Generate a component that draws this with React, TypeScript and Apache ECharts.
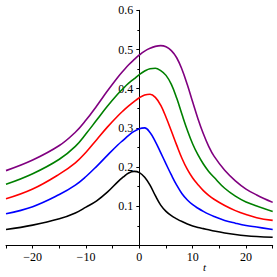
import React, { useEffect, useRef } from "react";
import * as echarts from "echarts";

const T = [-25, -20, -15, -12, -10, -8, -6, -4, -3, -2, -1, 0, 1, 2, 3, 4, 5, 6, 7, 8, 9, 10, 11, 12, 13, 14, 16, 18, 20, 22, 25];
const blackY = [0.041, 0.052, 0.068, 0.083, 0.098, 0.114, 0.136, 0.163, 0.175, 0.185, 0.189, 0.186, 0.174, 0.154, 0.127, 0.103, 0.087, 0.076, 0.068, 0.061, 0.055, 0.05, 0.046, 0.043, 0.04, 0.037, 0.032, 0.028, 0.025, 0.023, 0.021];
const blueY = [0.081, 0.099, 0.13, 0.154, 0.176, 0.202, 0.23, 0.257, 0.269, 0.281, 0.291, 0.298, 0.3, 0.288, 0.265, 0.237, 0.208, 0.18, 0.154, 0.132, 0.116, 0.104, 0.095, 0.087, 0.08, 0.074, 0.064, 0.057, 0.051, 0.047, 0.041];
const redY = [0.119, 0.144, 0.182, 0.211, 0.238, 0.27, 0.302, 0.331, 0.344, 0.356, 0.367, 0.377, 0.384, 0.386, 0.378, 0.358, 0.327, 0.292, 0.256, 0.222, 0.194, 0.172, 0.155, 0.14, 0.128, 0.118, 0.102, 0.089, 0.079, 0.071, 0.064];
const greenY = [0.156, 0.183, 0.22, 0.253, 0.285, 0.32, 0.355, 0.387, 0.401, 0.414, 0.425, 0.436, 0.445, 0.451, 0.452, 0.446, 0.434, 0.411, 0.376, 0.334, 0.294, 0.259, 0.231, 0.208, 0.189, 0.174, 0.146, 0.126, 0.111, 0.101, 0.087];
const purpleY = [0.191, 0.218, 0.255, 0.289, 0.32, 0.356, 0.394, 0.43, 0.446, 0.461, 0.474, 0.486, 0.496, 0.503, 0.508, 0.51, 0.507, 0.497, 0.479, 0.449, 0.41, 0.366, 0.323, 0.285, 0.253, 0.228, 0.192, 0.165, 0.144, 0.129, 0.11];

const SERIES = [
  { name: "black", color: "#000000", values: blackY },
  { name: "blue", color: "#0000ff", values: blueY },
  { name: "red", color: "#ff0000", values: redY },
  { name: "green", color: "#008000", values: greenY },
  { name: "purple", color: "#800080", values: purpleY },
];

const FONT = "Liberation Serif";
const GRID_LEFT = 6;
const GRID_RIGHT = 4.3;
const CHART_W = 277;

export default function App() {
  const ref = useRef<HTMLDivElement>(null);
  useEffect(() => {
    if (!ref.current) return;
    const chart = echarts.init(ref.current, null, { renderer: "svg" });
    const gridW = CHART_W - GRID_LEFT - GRID_RIGHT;
    chart.setOption({
      animation: false,
      backgroundColor: "#ffffff",
      grid: { left: GRID_LEFT, right: GRID_RIGHT, top: 10.3, bottom: 31.5, containLabel: false, outerBoundsMode: "none" },
      xAxis: {
        type: "value",
        min: -25,
        max: 25,
        interval: 5,
        splitLine: { show: false },
        axisLine: { show: true, onZero: false, lineStyle: { color: "#000", width: 1 } },
        axisTick: { show: true, length: 3, lineStyle: { color: "#000" } },
        axisLabel: {
          margin: 5,
          fontFamily: FONT,
          fontSize: 12,
          color: "#000",
          showMinLabel: true,
          showMaxLabel: true,
          hideOverlap: false,
          formatter: (v: number) => (Math.round(v) % 10 === 0 ? String(Math.round(v)).replace("-", "\u2212") : ""),
        },
      },
      yAxis: {
        type: "value",
        min: 0,
        max: 0.6,
        interval: 0.1,
        position: "left",
        offset: -gridW / 2,
        splitLine: { show: false },
        axisLine: { show: true, onZero: false, lineStyle: { color: "#000", width: 1 } },
        axisTick: { show: true, length: 3, lineStyle: { color: "#000" } },
        minorTick: { show: true, splitNumber: 2, length: 2, lineStyle: { color: "#000" } },
        axisLabel: {
          margin: 6,
          fontFamily: FONT,
          fontSize: 12,
          color: "#000",
          formatter: (v: number) => (v > 0.001 ? v.toFixed(1) : ""),
        },
      },
      series: SERIES.map((s) => ({
        type: "line",
        name: s.name,
        data: T.map((t, i) => [t, s.values[i]]),
        showSymbol: false,
        smooth: 0.4,
        lineStyle: { color: s.color, width: 1.6 },
        itemStyle: { color: s.color },
      })),
      graphic: [
        {
          type: "text",
          left: 203,
          top: 261,
          style: { text: "t", font: `italic 11px '${FONT}'`, fill: "#000" },
        },
      ],
    });
    return () => chart.dispose();
  }, []);
  return (
    <div
      ref={ref}
      style={{ position: "fixed", left: 0, top: 0, width: 277, height: 277, background: "#fff" }}
    />
  );
}
